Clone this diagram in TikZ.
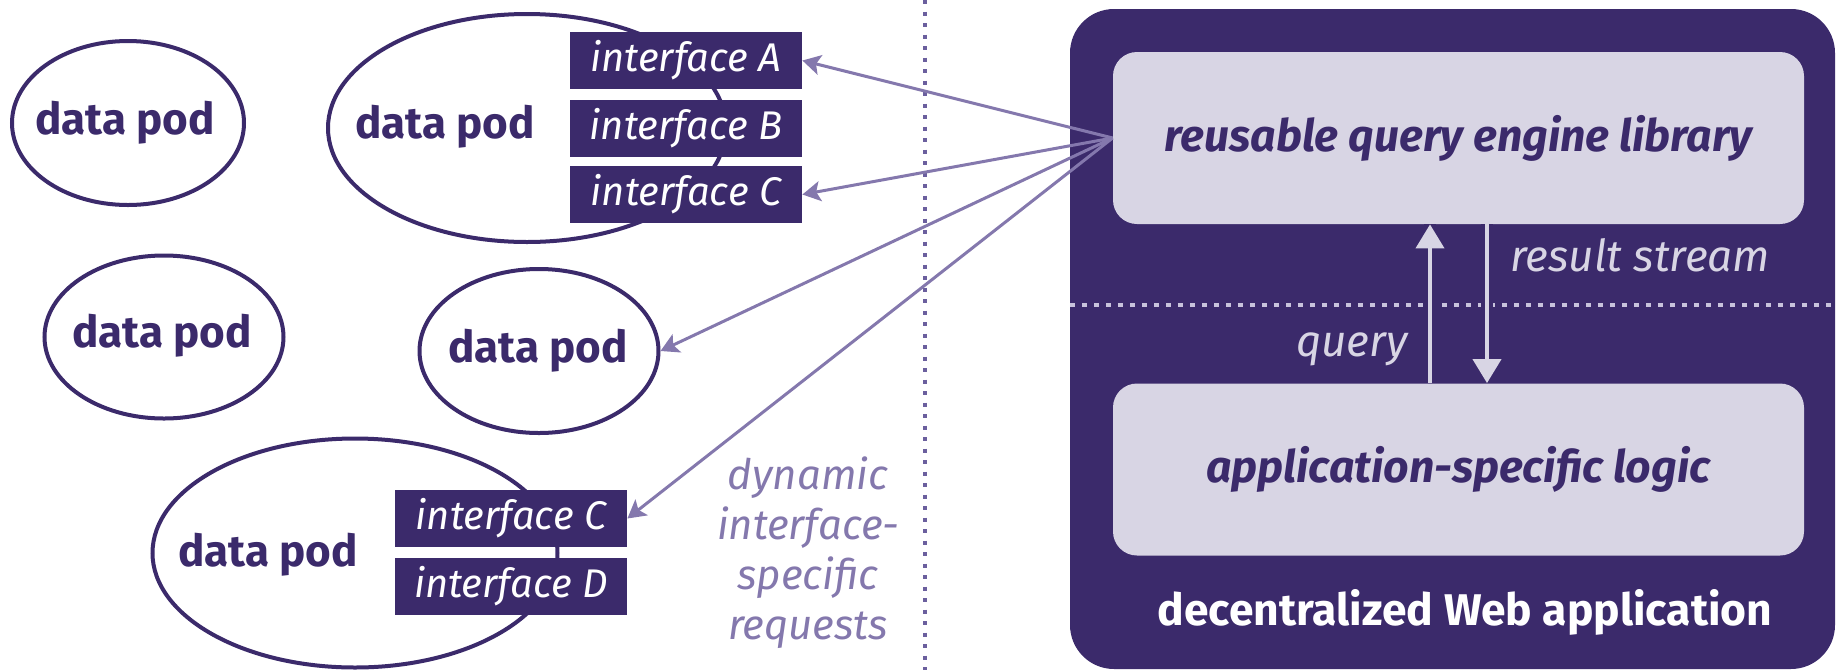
\documentclass[tikz,border=0pt]{standalone}
\usepackage{fontspec}
\setmainfont{Fira Sans}
\usetikzlibrary{shapes.geometric,arrows.meta}
\definecolor{dark}{RGB}{59,42,107}
\definecolor{lightbox}{RGB}{216,213,228}
\definecolor{req}{RGB}{132,120,173}
\definecolor{vdot}{RGB}{107,95,158}
\definecolor{hdot}{RGB}{200,195,220}
\begin{document}
\begin{tikzpicture}[x=0.5pt,y=-0.5pt,
  pod/.style={ellipse, draw=dark, line width=2pt, inner sep=0pt},
  podtext/.style={text=dark, inner sep=0pt, font=\fontsize{22}{26}\selectfont\bfseries},
  iface/.style={fill=dark, text=white, minimum width=116pt, minimum height=28.5pt,
    inner sep=0pt, font=\fontsize{20}{24}\selectfont\itshape},
  reqarrow/.style={draw=req, line width=1.5pt, -{Stealth[length=9pt,width=10pt,inset=2pt]}},
  reqtext/.style={text=req, align=center, inner sep=0pt,
    font=\fontsize{21}{25}\selectfont\itshape},
  inbox/.style={fill=lightbox, rounded corners=12pt, minimum width=345.5pt,
    minimum height=86pt, inner sep=0pt, text=dark,
    font=\fontsize{22.3}{26}\selectfont\bfseries\itshape},
  inarrow/.style={draw=lightbox, line width=2pt,
    preaction={draw=dark, line width=6pt, arrows=-},
    -{Triangle[length=12pt,width=14pt]}},
  intext/.style={text=lightbox, inner sep=0pt, font=\fontsize{22}{26}\selectfont\itshape},
  vdots/.style={draw=vdot, line width=2pt, dash pattern=on 2pt off 3.75pt},
  hdots/.style={draw=hdot, line width=1.8pt, dash pattern=on 2.5pt off 3.5pt}
]
\useasboundingbox (0,0) rectangle (1837,670);

% data pods
\node[pod, minimum width=116pt, minimum height=82pt] (p1) at (128,123) {};
\node[podtext] (p1t) at (125,123) {data pod};
\node[pod, minimum width=199pt, minimum height=114pt] (p2) at (527,128) {};
\node[podtext] (p2t) at (445,127) {data pod};
\node[pod, minimum width=119.5pt, minimum height=81.5pt] (p3) at (164,337) {};
\node[podtext] (p3t) at (162,336) {data pod};
\node[pod, minimum width=119.5pt, minimum height=82pt] (p4) at (539,351) {};
\node[podtext] (p4t) at (538,351) {data pod};
\node[pod, minimum width=202.5pt, minimum height=114.5pt] (p5) at (355,553) {};
\node[podtext] (p5t) at (268,555) {data pod};

% interfaces
\node[iface] (ifA) at (686,60.5) {interface A};
\node[iface] (ifB) at (686,128) {interface B};
\node[iface] (ifC) at (686,194.5) {interface C};
\node[iface] (ifC2) at (511,518.5) {interface C};
\node[iface] (ifD) at (511,586) {interface D};

% separator
\coordinate (vt) at (925,0);
\coordinate (vb) at (925,670);
\draw[vdots] (vt) -- (vb);

% application
\node[fill=dark, rounded corners=22pt, minimum width=382.5pt, minimum height=330pt,
  inner sep=0pt] (web) at (1452.5,339) {};
\coordinate (hl) at (1070,305);
\coordinate (hr) at (1835,305);
\draw[hdots] (hl) -- (hr);
\node[inbox] (eng) at (1458.5,138) {reusable query engine library};
\node[inbox] (app) at (1458.5,469.5) {application-specific logic};
\node[text=white, inner sep=0pt, font=\fontsize{22.2}{26}\selectfont\bfseries]
  (webt) at (1465,612) {decentralized Web application};

\coordinate (qx) at (1430,0);
\coordinate (rx) at (1487,0);
\draw[inarrow] (app.north -| qx) -- (eng.south -| qx);
\draw[inarrow] (eng.south -| rx) -- (app.north -| rx);
\node[intext, anchor=east] (qt) at (1408,349) {query};
\node[intext, anchor=west] (rt) at (1510,255) {result stream};

% requests
\draw[reqarrow] (eng.west) -- (ifA.east);
\draw[reqarrow] (eng.west) -- (ifC.east);
\draw[reqarrow] (eng.west) -- (p4.east);
\draw[reqarrow] (eng.west) -- (ifC2.east);
\node[reqtext] (dyn) at (808,553) {dynamic\\interface-\\specific\\requests};
\end{tikzpicture}
\end{document}
